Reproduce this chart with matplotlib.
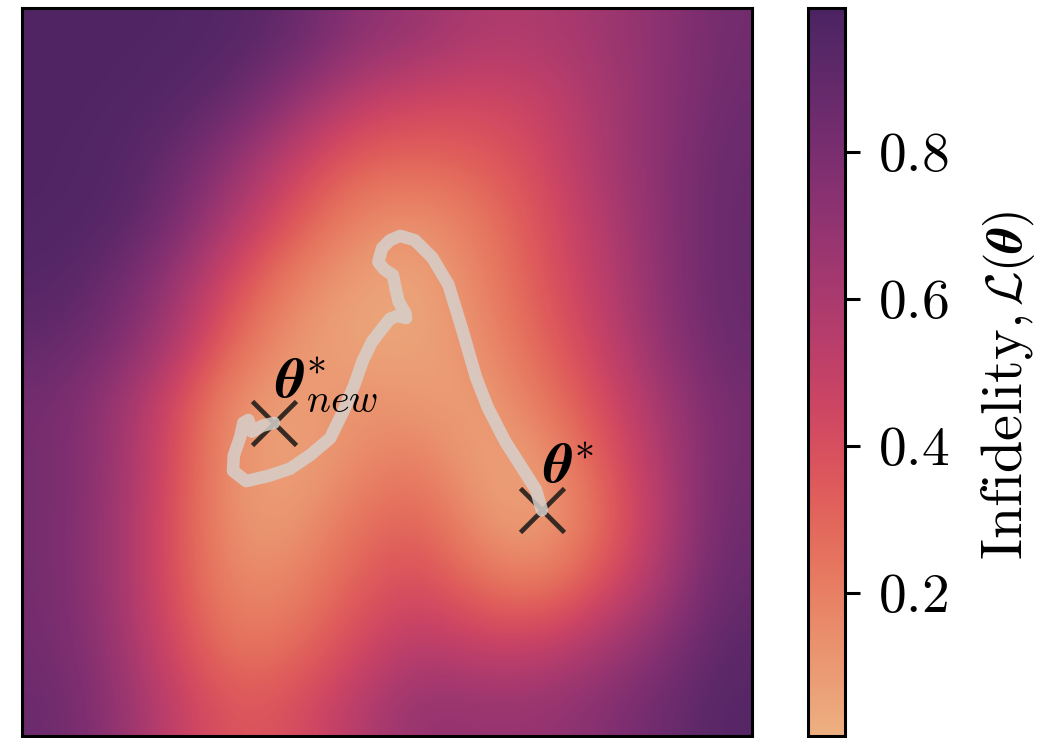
"""
Infidelity landscape with optimisation path
"""
import matplotlib
matplotlib.use("Agg")
import matplotlib.pyplot as plt
from matplotlib.ticker import FuncFormatter
import numpy as np
import seaborn as sns

plt.rcParams['font.family'] = 'serif'
plt.rcParams['font.serif'] = ['cmr10', 'DejaVu Serif']
plt.rcParams['mathtext.fontset'] = 'cm'

# landscape, 12 x 12, top row first
landscape = np.array([
    [0.97, 0.97, 0.97, 0.95, 0.88, 0.73, 0.67, 0.58, 0.58, 0.64, 0.72, 0.83],
    [0.97, 0.97, 0.95, 0.88, 0.70, 0.52, 0.45, 0.44, 0.48, 0.60, 0.72, 0.85],
    [0.97, 0.96, 0.88, 0.70, 0.48, 0.32, 0.30, 0.33, 0.42, 0.60, 0.73, 0.87],
    [0.97, 0.95, 0.82, 0.57, 0.35, 0.17, 0.12, 0.22, 0.38, 0.55, 0.73, 0.88],
    [0.95, 0.87, 0.67, 0.40, 0.18, 0.07, 0.04, 0.17, 0.35, 0.52, 0.72, 0.88],
    [0.90, 0.80, 0.60, 0.28, 0.10, 0.05, 0.05, 0.13, 0.30, 0.48, 0.70, 0.87],
    [0.82, 0.68, 0.42, 0.12, 0.07, 0.13, 0.10, 0.07, 0.22, 0.40, 0.62, 0.82],
    [0.82, 0.68, 0.40, 0.10, 0.06, 0.15, 0.22, 0.06, 0.08, 0.33, 0.57, 0.83],
    [0.82, 0.66, 0.38, 0.10, 0.10, 0.25, 0.33, 0.12, 0.05, 0.27, 0.55, 0.85],
    [0.82, 0.66, 0.38, 0.15, 0.18, 0.33, 0.42, 0.27, 0.20, 0.38, 0.60, 0.88],
    [0.83, 0.68, 0.42, 0.22, 0.27, 0.42, 0.55, 0.48, 0.48, 0.60, 0.75, 0.92],
    [0.86, 0.72, 0.50, 0.35, 0.40, 0.55, 0.70, 0.68, 0.68, 0.75, 0.85, 0.95],
])

# optimisation path (fraction of the parameter window)
path_x = [0.712, 0.704, 0.685, 0.662, 0.638, 0.622, 0.603, 0.584, 0.562, 0.538,
          0.518, 0.504, 0.493, 0.488, 0.496, 0.508, 0.512, 0.516, 0.525, 0.526,
          0.514, 0.504, 0.492, 0.479, 0.467, 0.455, 0.441, 0.422, 0.395, 0.367,
          0.337, 0.307, 0.289, 0.290, 0.299, 0.303, 0.310, 0.315, 0.329, 0.345]
path_y = [0.310, 0.338, 0.368, 0.404, 0.451, 0.492, 0.558, 0.620, 0.657, 0.681,
          0.687, 0.681, 0.670, 0.651, 0.641, 0.633, 0.613, 0.596, 0.581, 0.574,
          0.577, 0.573, 0.558, 0.541, 0.516, 0.482, 0.448, 0.409, 0.386, 0.367,
          0.357, 0.350, 0.364, 0.385, 0.411, 0.430, 0.434, 0.418, 0.426, 0.430]

theta_star = (0.712, 0.310)
theta_new = (0.345, 0.430)

cbar_ticks = [0.2, 0.4, 0.6, 0.8]

fig = plt.figure(figsize=(10.4, 7.38), dpi=100)
ax = fig.add_axes([0.0212, 0.003, 0.702, 0.986])
cax = fig.add_axes([0.777, 0.003, 0.0356, 0.986])

cmap = sns.color_palette("flare", as_cmap=True)
im = ax.imshow(landscape, cmap=cmap, extent=[0, 1, 0, 1], origin='upper',
               interpolation='bicubic', vmin=0.006, vmax=0.995, aspect='auto')

ax.plot(*theta_star, 'x', color='#231e1b', alpha=0.9, markersize=32, mew=3.4, zorder=3)
ax.plot(*theta_new, 'x', color='#231e1b', alpha=0.9, markersize=32, mew=3.4, zorder=3)
ax.plot(path_x, path_y, color='#d6cfca', lw=9, alpha=0.85,
        solid_capstyle='round', solid_joinstyle='round', zorder=4)

ax.text(0.347, 0.465, r'$\mathbfit{\theta}^{*}_{new}$', fontsize=41, zorder=5)
ax.text(0.714, 0.347, r'$\mathbfit{\theta}^{*}$', fontsize=41, zorder=5)

ax.set_xlim(0, 1)
ax.set_ylim(0, 1)
ax.set_xticks([])
ax.set_yticks([])
for s in ax.spines.values():
    s.set_linewidth(2.2)

cb = fig.colorbar(im, cax=cax, ticks=cbar_ticks)
cb.outline.set_linewidth(2.2)
cax.yaxis.set_major_formatter(FuncFormatter(lambda v, p: rf'${v:.1f}$'))
cax.tick_params(labelsize=40, length=11, width=2.2, pad=13)

# colour bar label in two parts: words from the bottom, symbol from the top
fig.text(0.9825, 0.2412, r'$\mathrm{Infidelity,}$', rotation=90,
         rotation_mode='anchor', ha='left', va='baseline', fontsize=42)
fig.text(0.9825, 0.7154, r'$\mathcal{L}(\mathbfit{\theta})$', rotation=90,
         rotation_mode='anchor', ha='right', va='baseline', fontsize=36)

try:
    fig.canvas.draw()
except Exception:
    for t in ax.texts + fig.texts:
        t.set_text(t.get_text().replace(r'\mathbfit{\theta}', r'\theta'))

fig.savefig('out.png', dpi=100)
